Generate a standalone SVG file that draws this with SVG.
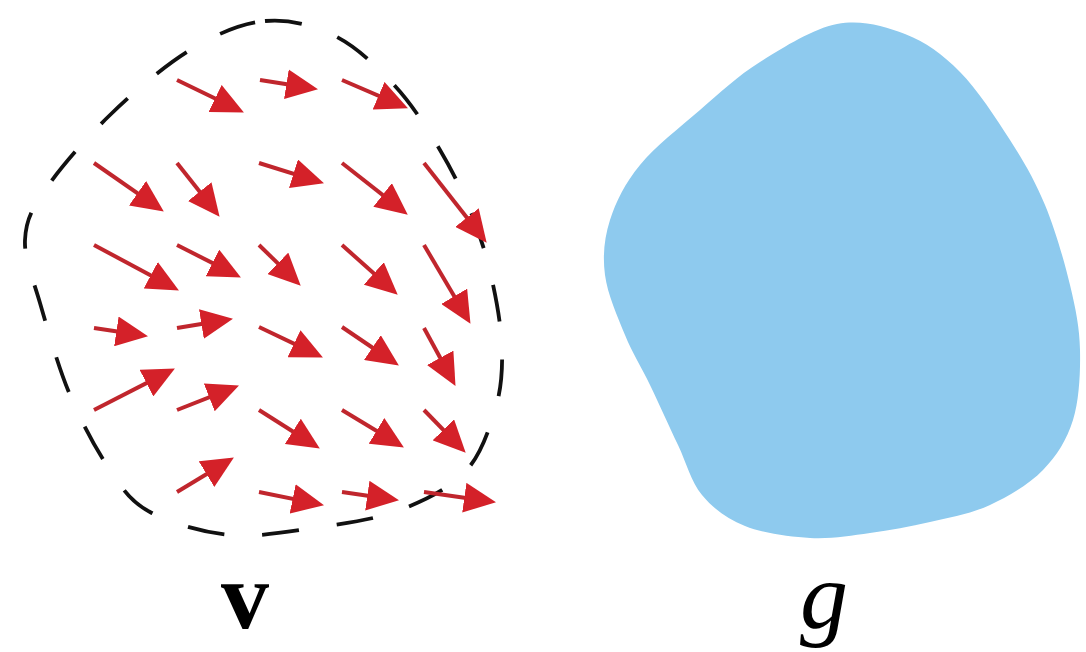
<svg xmlns="http://www.w3.org/2000/svg" width="1086" height="652" viewBox="0 0 1086 652">
<style>
.outline{fill:none;stroke:#111;stroke-width:3.8;stroke-dasharray:37 38;stroke-linecap:butt}
.blob{fill:#8ecaee}
.arr line{stroke:#c0262d;stroke-width:4;marker-end:url(#head)}
.lbl{font-family:'Liberation Serif','Times New Roman',Tinos,'Nimbus Roman',Times,serif;font-size:96px;fill:#000;text-anchor:middle}
</style>
<defs>
<marker id="head" markerUnits="userSpaceOnUse" markerWidth="32" markerHeight="30" refX="23" refY="15" orient="auto" viewBox="0 0 32 30">
<path d="M0,0 L32,15 L0,30 Z" fill="#d42129"/>
</marker>
</defs>
<rect width="1086" height="652" fill="#fff"/>
<g id="domain-v">
<path class="outline" d="M265,21 C289.2,18.7 313.3,25.2 335,36 C356.7,46.8 377.5,67 395,86 C412.5,105 427.2,128.5 440,150 C452.8,171.5 463.3,193.3 472,215 C480.7,236.7 487,257.5 492,280 C497,302.5 501.5,328.3 502,350 C502.5,371.7 501.2,389.7 495,410 C488.8,430.3 480.8,455.3 465,472 C449.2,488.7 424.2,500.8 400,510 C375.8,519.2 348.3,522.8 320,527 C291.7,531.2 258.3,537.5 230,535 C201.7,532.5 170,522.8 150,512 C130,501.2 123.3,489.5 110,470 C96.7,450.5 81.7,422.8 70,395 C58.3,367.2 47.5,328.8 40,303 C32.5,277.2 24.2,258.8 25,240 C25.8,221.2 30.8,210.8 45,190 C59.2,169.2 85.8,138.3 110,115 C134.2,91.7 164.2,65.7 190,50 C215.8,34.3 240.8,23.3 265,21 Z"/>
</g>
<g id="arrows" class="arr">
<line x1="177" y1="80" x2="235.8" y2="108.5"/>
<line x1="260" y1="80" x2="309.1" y2="87.8"/>
<line x1="342" y1="80" x2="399.7" y2="104.8"/>
<line x1="94" y1="163" x2="156.4" y2="206.4"/>
<line x1="177" y1="163" x2="214" y2="209.7"/>
<line x1="259" y1="163" x2="315.4" y2="180.6"/>
<line x1="342" y1="163" x2="400.7" y2="209.1"/>
<line x1="424" y1="163" x2="481.1" y2="235.7"/>
<line x1="94" y1="245" x2="171" y2="286.2"/>
<line x1="177" y1="245" x2="232.9" y2="273.4"/>
<line x1="259" y1="245" x2="294.3" y2="279.4"/>
<line x1="342" y1="245" x2="391" y2="288.7"/>
<line x1="424" y1="245" x2="465.9" y2="316.1"/>
<line x1="94" y1="328" x2="139.1" y2="334.8"/>
<line x1="177" y1="328" x2="224.1" y2="320.3"/>
<line x1="259" y1="327" x2="314.8" y2="353.6"/>
<line x1="342" y1="327" x2="391.4" y2="360.5"/>
<line x1="424" y1="328" x2="451.2" y2="378"/>
<line x1="94" y1="410" x2="166.9" y2="372.6"/>
<line x1="177" y1="410" x2="230.6" y2="388.9"/>
<line x1="259" y1="410" x2="312.2" y2="443.7"/>
<line x1="342" y1="410" x2="396.2" y2="442.8"/>
<line x1="424" y1="410" x2="459.4" y2="446.3"/>
<line x1="177" y1="492" x2="226.2" y2="462.2"/>
<line x1="259" y1="492" x2="315.2" y2="503.4"/>
<line x1="342" y1="492" x2="390.1" y2="498.9"/>
<line x1="424" y1="492" x2="487.1" y2="500.9"/>
</g>
<g id="region-g">
<path class="blob" d="M837,24 C861.2,19.3 884.5,26 905,34 C925.5,42 942.5,54.3 960,72 C977.5,89.7 995.8,117.8 1010,140 C1024.2,162.2 1035,180.8 1045,205 C1055,229.2 1064.2,260.8 1070,285 C1075.8,309.2 1079.5,327.5 1080,350 C1080.5,372.5 1079.2,400 1073,420 C1066.8,440 1056.8,455.8 1043,470 C1029.2,484.2 1008.8,496.3 990,505 C971.2,513.7 950,517.3 930,522 C910,526.7 890,530.3 870,533 C850,535.7 830.8,539.2 810,538 C789.2,536.8 763,533.2 745,526 C727,518.8 713.2,508.5 702,495 C690.8,481.5 686.7,463.3 678,445 C669.3,426.7 658.8,403.3 650,385 C641.2,366.7 632.5,353.3 625,335 C617.5,316.7 607.5,294.2 605,275 C602.5,255.8 604.2,238.3 610,220 C615.8,201.7 625,183.3 640,165 C655,146.7 680,127.2 700,110 C720,92.8 737.2,76.3 760,62 C782.8,47.7 812.8,28.7 837,24 Z"/>
</g>
<g id="label-v"><text class="lbl" x="245" y="628" style="font-weight:bold">v</text></g>
<g id="label-g"><text class="lbl" x="824" y="628" style="font-style:italic">g</text></g>
</svg>
